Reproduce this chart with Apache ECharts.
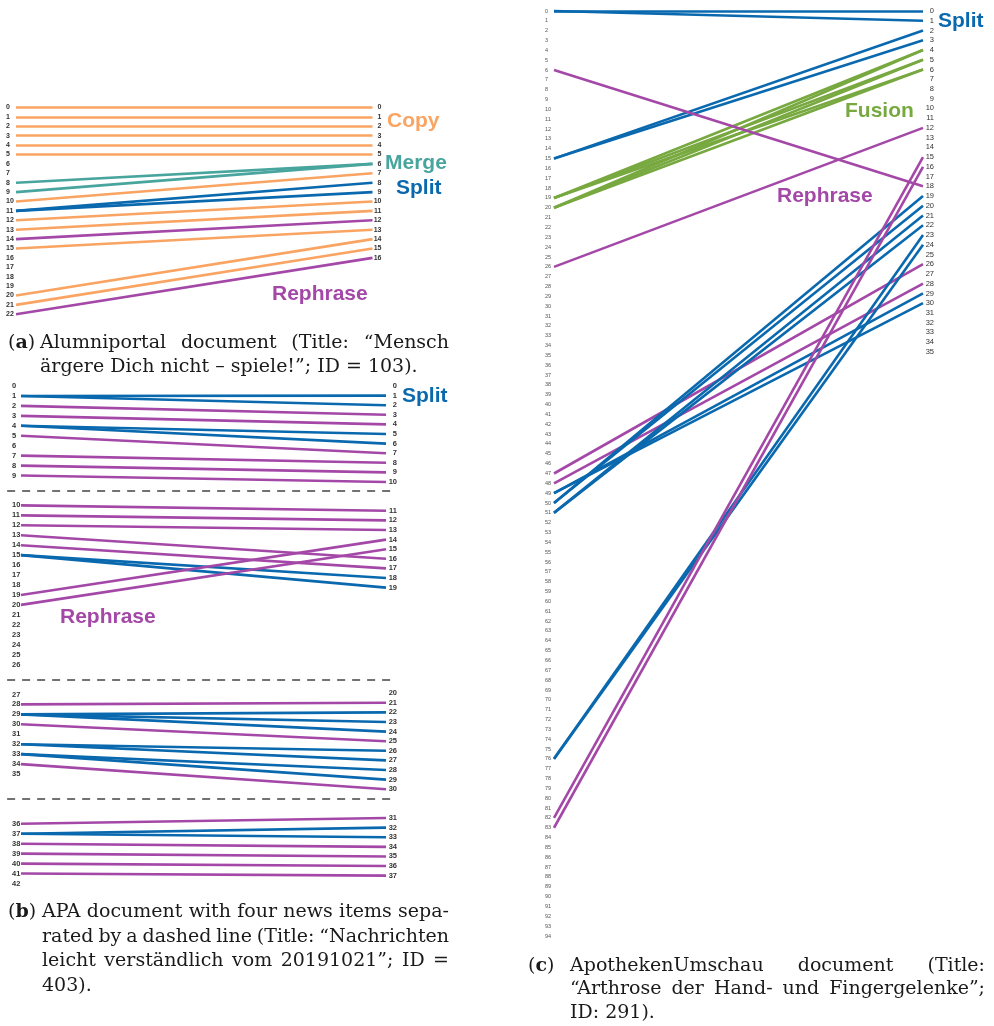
<!DOCTYPE html>
<html>
<head>
<meta charset="utf-8">
<script src="https://cdn.jsdelivr.net/npm/echarts@6/dist/echarts.min.js"></script>
<style>
  html, body { margin: 0; padding: 0; background: #fff; }
  #chart { width: 994px; height: 1026px; }
</style>
</head>
<body>
<div id="chart"></div>
<script>
// ---------- alignment types ----------
const TYPE_COLORS = {
  Copy: '#F9A462',
  Merge: '#48A59D',
  Split: '#0A69AE',
  Rephrase: '#A448A8',
  Fusion: '#78A940'
};

// ---------- (a) Alumniportal document, ID 103 ----------
const aLeftTicks = ['0','1','2','3','4','5','6','7','8','9','10','11','12','13','14','15','16','17','18','19','20','21','22'];
const aRightTicks = ['0','1','2','3','4','5','6','7','8','9','10','11','12','13','14','15','16'];
// [source sentence, target sentence, alignment type]
const aLinks = [
  [0, 0, 'Copy'], [1, 1, 'Copy'], [2, 2, 'Copy'], [3, 3, 'Copy'], [4, 4, 'Copy'], [5, 5, 'Copy'],
  [10, 7, 'Copy'], [12, 10, 'Copy'], [13, 11, 'Copy'], [15, 13, 'Copy'], [20, 14, 'Copy'], [21, 15, 'Copy'],
  [8, 6, 'Merge'], [9, 6, 'Merge'],
  [11, 8, 'Split'], [11, 9, 'Split'],
  [14, 12, 'Rephrase'], [22, 16, 'Rephrase']
];

// ---------- (b) APA document, ID 403 (four news items) ----------
const bLeftItems = [
  ['0','1','2','3','4','5','6','7','8','9'],
  ['10','11','12','13','14','15','16','17','18','19','20','21','22','23','24','25','26'],
  ['27','28','29','30','31','32','33','34','35'],
  ['36','37','38','39','40','41','42']
];
const bRightItems = [
  ['0','1','2','3','4','5','6','7','8','9','10'],
  ['11','12','13','14','15','16','17','18','19'],
  ['20','21','22','23','24','25','26','27','28','29','30'],
  ['31','32','33','34','35','36','37']
];
const bLinks = [
  [1, 1, 'Split'], [1, 2, 'Split'], [2, 3, 'Rephrase'], [3, 4, 'Rephrase'],
  [4, 5, 'Split'], [4, 6, 'Split'], [5, 7, 'Rephrase'], [7, 8, 'Rephrase'],
  [8, 9, 'Rephrase'], [9, 10, 'Rephrase'],
  [10, 11, 'Rephrase'], [11, 12, 'Rephrase'], [12, 13, 'Rephrase'], [13, 16, 'Rephrase'],
  [14, 17, 'Rephrase'], [15, 18, 'Split'], [15, 19, 'Split'], [19, 14, 'Rephrase'], [20, 15, 'Rephrase'],
  [28, 21, 'Rephrase'], [29, 22, 'Split'], [29, 23, 'Split'], [29, 24, 'Split'], [30, 25, 'Rephrase'],
  [32, 26, 'Split'], [32, 27, 'Split'], [33, 28, 'Split'], [33, 29, 'Split'], [34, 30, 'Rephrase'],
  [36, 31, 'Rephrase'], [37, 32, 'Split'], [37, 33, 'Split'], [38, 34, 'Rephrase'],
  [39, 35, 'Rephrase'], [40, 36, 'Rephrase'], [41, 37, 'Rephrase']
];

// ---------- (c) ApothekenUmschau document, ID 291 ----------
const cLeftTicks = ['0','1','2','3','4','5','6','7','8','9','10','11','12','13','14','15','16','17','18','19',
  '20','21','22','23','24','25','26','27','28','29','30','31','32','33','34','35','36','37','38','39',
  '40','41','42','43','44','45','46','47','48','49','50','51','52','53','54','55','56','57','58','59',
  '60','61','62','63','64','65','66','67','68','69','70','71','72','73','74','75','76','77','78','79',
  '80','81','82','83','84','85','86','87','88','89','90','91','92','93','94'];
const cRightTicks = ['0','1','2','3','4','5','6','7','8','9','10','11','12','13','14','15','16','17','18','19',
  '20','21','22','23','24','25','26','27','28','29','30','31','32','33','34','35'];
const cLinks = [
  [0, 0, 'Split'], [0, 1, 'Split'], [15, 2, 'Split'], [15, 3, 'Split'],
  [19, 4, 'Fusion'], [19, 5, 'Fusion'], [19, 6, 'Fusion'], [20, 4, 'Fusion'], [20, 5, 'Fusion'], [20, 6, 'Fusion'],
  [6, 18, 'Rephrase'], [26, 12, 'Rephrase'],
  [47, 26, 'Rephrase'], [48, 28, 'Rephrase'],
  [49, 29, 'Split'], [49, 30, 'Split'], [50, 19, 'Split'], [50, 20, 'Split'], [51, 21, 'Split'], [51, 22, 'Split'],
  [76, 23, 'Split'], [76, 24, 'Split'],
  [82, 15, 'Rephrase'], [83, 16, 'Rephrase']
];

// ---------- layout ----------
// empty rows left between the news items of (b)
const B_LEFT_GAPS = [2, 2, 4];
const B_RIGHT_GAPS = [2, 10, 2];
// axis extents (rows) of each panel; right sides use a slightly tighter row pitch in (b) and (c)
const EXT = {
  a: { left: 22, right: 22 },
  b: { left: 50, right: 51.82 },
  c: { left: 94, right: 94.97 }
};

// turn grouped labels into a row table: row -> label ('' for spacer rows)
function buildRows(groups, gaps) {
  const rows = [];
  const rowOf = {};
  groups.forEach((g, gi) => {
    g.forEach(lbl => { rowOf[lbl] = rows.length; rows.push(lbl); });
    if (gi < gaps.length) for (let k = 0; k < gaps[gi]; k++) rows.push('');
  });
  return { rows, rowOf };
}
const bLeft = buildRows(bLeftItems, B_LEFT_GAPS);
const bRight = buildRows(bRightItems, B_RIGHT_GAPS);

// rows between news items where the dashed separators go
const bSeparators = [];
{
  let r = 0;
  bLeftItems.forEach((g, gi) => {
    r += g.length;
    if (gi < B_LEFT_GAPS.length) {
      bSeparators.push(r - 1 + (B_LEFT_GAPS[gi] + 1) / 2);
      r += B_LEFT_GAPS[gi];
    }
  });
}

function rowLabel(table) {
  return v => (Number.isInteger(v) && table[v] !== undefined) ? table[v] : '';
}

function sideAxis(gridIndex, position, max, formatter, label) {
  return {
    type: 'value', gridIndex, position, inverse: true, min: 0, max, interval: 1,
    axisLine: { show: false }, axisTick: { show: false }, splitLine: { show: false },
    axisLabel: Object.assign({ formatter, fontFamily: 'Liberation Sans', color: '#333' }, label)
  };
}

// link endpoints: left at x=0, right at x=1; right rows re-expressed on the left axis scale
function linkLines(links, leftRow, rightRow, ext) {
  const k = ext.left / ext.right;
  return links.map(([l, r, t]) => ({
    coords: [[0, leftRow(l)], [1, rightRow(r) * k]],
    lineStyle: { color: TYPE_COLORS[t] }
  }));
}

const lineBase = {
  type: 'lines', coordinateSystem: 'cartesian2d', polyline: false, clip: false,
  silent: true, lineStyle: { width: 2.6, opacity: 1, curveness: 0 }
};

// ---------- captions ----------
const CAP_FONT_SIZE = 19;
const CAP_FONT = 'DejaVu Serif';
const CAP_COLOR = '#1a1a1a';
const measureCtx = document.createElement('canvas').getContext('2d');
function textWidth(t, size) {
  measureCtx.font = size + 'px "' + CAP_FONT + '"';
  return measureCtx.measureText(t).width;
}
function capText(x, y, text, size) {
  return { type: 'text', x, y, style: { text, fontSize: size || CAP_FONT_SIZE, fontFamily: CAP_FONT, fill: CAP_COLOR, verticalAlign: 'middle', textVerticalAlign: 'middle' } };
}
// justified line: words spread over x0..x1 (font shrinks a little if the words would not fit)
function captionLine(text, x0, x1, y, justify) {
  if (!justify) return [capText(x0, y, text)];
  const words = text.split(' ');
  let size = CAP_FONT_SIZE;
  let w = words.map(s => textWidth(s, size));
  const minGap = 4.5;
  let sum = w.reduce((s, v) => s + v, 0);
  if (sum + minGap * (words.length - 1) > x1 - x0) {
    size = size * (x1 - x0 - minGap * (words.length - 1)) / sum;
    w = words.map(s => textWidth(s, size));
    sum = w.reduce((s, v) => s + v, 0);
  }
  const gap = (x1 - x0 - sum) / (words.length - 1);
  const out = [];
  let x = x0;
  words.forEach((wd, i) => { out.push(capText(x, y, wd, size)); x += w[i] + gap; });
  return out;
}
function captionTag(x, y, letter) {
  return {
    type: 'text', x, y,
    style: {
      text: '({b|' + letter + '})', fontSize: CAP_FONT_SIZE, fontFamily: CAP_FONT, fill: CAP_COLOR,
      verticalAlign: 'middle', textVerticalAlign: 'middle',
      rich: { b: { fontWeight: 'bold', fontSize: CAP_FONT_SIZE, fontFamily: CAP_FONT, fill: CAP_COLOR } }
    }
  };
}
function caption(tagX, textX, x1, y0, lh, letter, lines) {
  const els = [captionTag(tagX, y0, letter)];
  lines.forEach((ln, i) => {
    els.push(...captionLine(ln, textX, x1, y0 + i * lh, i < lines.length - 1));
  });
  return els;
}

function typeLabel(x, y, text, type) {
  return {
    type: 'text', x, y,
    style: { text, fontSize: 21, fontWeight: 'bold', fontFamily: 'Liberation Sans', fill: TYPE_COLORS[type],
      verticalAlign: 'middle', textVerticalAlign: 'middle' }
  };
}

const graphics = [
  typeLabel(387, 121, 'Copy', 'Copy'),
  typeLabel(385, 163, 'Merge', 'Merge'),
  typeLabel(396, 188, 'Split', 'Split'),
  typeLabel(272, 294, 'Rephrase', 'Rephrase'),
  typeLabel(402, 396, 'Split', 'Split'),
  typeLabel(60, 617, 'Rephrase', 'Rephrase'),
  typeLabel(938, 21, 'Split', 'Split'),
  typeLabel(845, 111, 'Fusion', 'Fusion'),
  typeLabel(777, 196, 'Rephrase', 'Rephrase'),
  ...caption(8, 40, 449, 343, 24.5, 'a', [
    'Alumniportal document (Title: \u201cMensch',
    '\u00e4rgere Dich nicht \u2013 spiele!\u201d; ID = 103).'
  ]),
  ...caption(8, 42, 449, 912, 24.7, 'b', [
    'APA document with four news items sepa-',
    'rated by a dashed line (Title: \u201cNachrichten',
    'leicht verst\u00e4ndlich vom 20191021\u201d; ID =',
    '403).'
  ]),
  ...caption(528, 570, 985, 966, 23.5, 'c', [
    'ApothekenUmschau document (Title:',
    '\u201cArthrose der Hand- und Fingergelenke\u201d;',
    'ID: 291).'
  ])
];

// ---------- chart ----------
const chart = echarts.init(document.getElementById('chart'));

const option = {
  animation: false,
  backgroundColor: '#fff',
  grid: [
    { left: 16, top: 107.5, width: 356.5, height: 206.8 },
    { left: 21, top: 386, width: 365, height: 497.5 },
    { left: 554, top: 11, width: 369, height: 925 }
  ],
  xAxis: [0, 1, 2].map(g => ({ type: 'value', gridIndex: g, min: 0, max: 1, show: false })),
  yAxis: [
    sideAxis(0, 'left', EXT.a.left, rowLabel(aLeftTicks), { align: 'left', margin: 10, fontSize: 7, fontWeight: 'bold' }),
    sideAxis(0, 'right', EXT.a.right, rowLabel(aRightTicks), { align: 'right', margin: 9, fontSize: 7, fontWeight: 'bold' }),
    sideAxis(1, 'left', EXT.b.left, rowLabel(bLeft.rows), { align: 'left', margin: 9, fontSize: 7.5, fontWeight: 'bold' }),
    sideAxis(1, 'right', EXT.b.right, rowLabel(bRight.rows), { align: 'right', margin: 11, fontSize: 7.5, fontWeight: 'bold' }),
    sideAxis(2, 'left', EXT.c.left, rowLabel(cLeftTicks), { align: 'left', margin: 9, fontSize: 5.5, color: '#555' }),
    sideAxis(2, 'right', EXT.c.right, rowLabel(cRightTicks), { align: 'right', margin: 11, fontSize: 7.5, color: '#333' })
  ],
  series: [
    Object.assign({}, lineBase, {
      xAxisIndex: 0, yAxisIndex: 0,
      data: linkLines(aLinks, l => l, r => r, EXT.a)
    }),
    Object.assign({}, lineBase, {
      xAxisIndex: 1, yAxisIndex: 2,
      data: linkLines(bLinks, l => bLeft.rowOf[String(l)], r => bRight.rowOf[String(r)], EXT.b)
    }),
    Object.assign({}, lineBase, {
      xAxisIndex: 1, yAxisIndex: 2,
      lineStyle: { width: 1.6, opacity: 1, color: '#444', type: [8, 7] },
      data: bSeparators.map(row => ({ coords: [[-0.038, row], [1.027, row]] }))
    }),
    Object.assign({}, lineBase, {
      xAxisIndex: 2, yAxisIndex: 4,
      data: linkLines(cLinks, l => l, r => r, EXT.c)
    })
  ],
  graphic: graphics
};

chart.setOption(option);
</script>
</body>
</html>
